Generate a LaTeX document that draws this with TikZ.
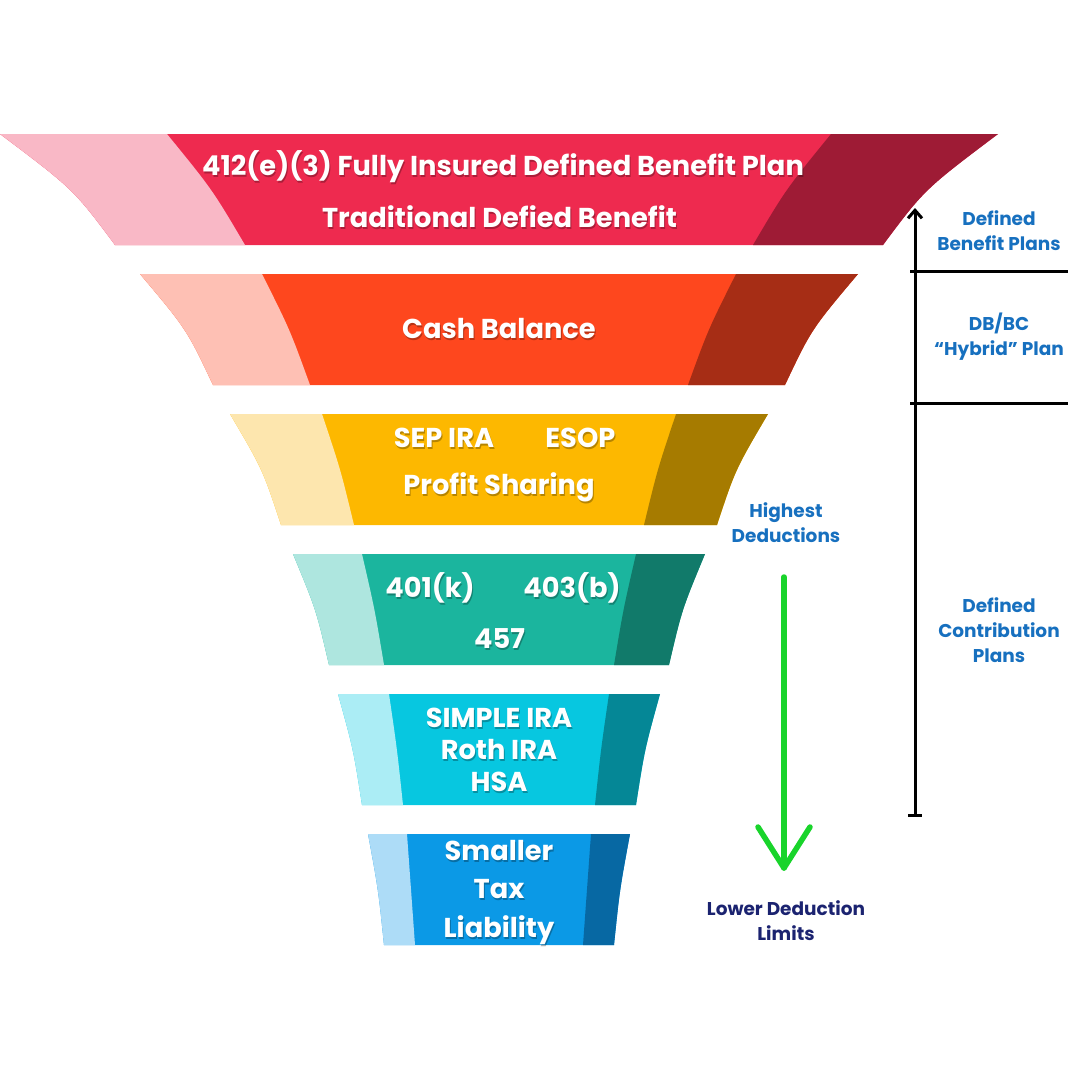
\documentclass[tikz,border=0pt]{standalone}
\usepackage{fontspec}
\setmainfont{Poppins}
\usetikzlibrary{arrows.meta}
\definecolor{colorl1}{HTML}{F9B8C6}
\definecolor{colorm1}{HTML}{EE2A4F}
\definecolor{colord1}{HTML}{9E1B35}
\definecolor{colorl2}{HTML}{FEC0B4}
\definecolor{colorm2}{HTML}{FE471E}
\definecolor{colord2}{HTML}{A62D15}
\definecolor{colorl3}{HTML}{FDE6AE}
\definecolor{colorm3}{HTML}{FDB800}
\definecolor{colord3}{HTML}{A67B00}
\definecolor{colorl4}{HTML}{AEE6DF}
\definecolor{colorm4}{HTML}{1BB59E}
\definecolor{colord4}{HTML}{117A6A}
\definecolor{colorl5}{HTML}{ABEDF5}
\definecolor{colorm5}{HTML}{07C7E0}
\definecolor{colord5}{HTML}{058796}
\definecolor{colorl6}{HTML}{ADDCF7}
\definecolor{colorm6}{HTML}{0B99E6}
\definecolor{colord6}{HTML}{0768A3}
\definecolor{colorside}{HTML}{1770BF}
\definecolor{colornavy}{HTML}{1B2370}
\definecolor{colorgreen}{HTML}{19D42B}
% one band of the funnel: top y, bottom y, outer x (top, bottom), inner x (top, bottom), colour index
\newcommand{\funnelband}[7]{%
  \pgfmathsetmacro{\ymid}{(#1+#2)/2}%
  \pgfmathsetmacro{\outc}{(#3+#4)/2+0.14*(#4-#3)}%
  \pgfmathsetmacro{\innc}{(#5+#6)/2+0.08*(#6-#5)}%
  \pgfmathsetmacro{\routt}{998-#3}%
  \pgfmathsetmacro{\routb}{998-#4}%
  \pgfmathsetmacro{\routc}{998-\outc}%
  \pgfmathsetmacro{\rint}{998-#5}%
  \pgfmathsetmacro{\rinb}{998-#6}%
  \pgfmathsetmacro{\rinc}{998-\innc}%
  \fill[colorm#7] (#3,#1) -- (\routt,#1) .. controls (\routc,\ymid) .. (\routb,#2) -- (#4,#2) .. controls (\outc,\ymid) .. (#3,#1) -- cycle;
  \fill[colorl#7] (#3,#1) -- (#5,#1) .. controls (\innc,\ymid) .. (#6,#2) -- (#4,#2) .. controls (\outc,\ymid) .. (#3,#1) -- cycle;
  \fill[colord#7] (\rint,#1) -- (\routt,#1) .. controls (\routc,\ymid) .. (\routb,#2) -- (\rinb,#2) .. controls (\rinc,\ymid) .. (\rint,#1) -- cycle;
}
\newcommand{\bandlabel}[3]{%
  \node[bandshadow] at ([xshift=1pt,yshift=-2pt]#2) {#3};
  \node[bandtext] (#1) at (#2) {#3};
}
\tikzset{
  bandtext/.style={text=white, font=\fontsize{27.3}{32}\selectfont\bfseries, inner sep=0pt, anchor=base},
  bandshadow/.style={bandtext, text=black, opacity=0.28},
  sidetext/.style={text=colorside, font=\fontsize{18.5}{25}\selectfont\bfseries, inner sep=0pt, anchor=base},
  axisline/.style={line width=3pt, black},
  greenarrow/.style={line width=5.5pt, colorgreen, line cap=round, line join=round}
}

\begin{document}
\begin{tikzpicture}[x=1pt,y=-1pt]
\useasboundingbox (0,0) rectangle (1080,1080);

\funnelband{134}{245}{0}{115}{167}{245}{1}
\funnelband{274}{385}{140}{213}{262}{310}{2}
\funnelband{414}{525}{230}{281}{322}{354}{3}
\funnelband{554}{665}{293}{329}{362}{384}{4}
\funnelband{694}{805}{338}{362}{389}{403}{5}
\funnelband{834}{945}{368}{384}{407}{415}{6}

\bandlabel{dbfull}{503,175}{412(e)(3) Fully Insured Defined Benefit Plan}
\bandlabel{dbtrad}{499.5,227}{Traditional Defied Benefit}
\bandlabel{cash}{499,338}{Cash Balance}
\bandlabel{sep}{444,447}{SEP IRA}
\bandlabel{esop}{580.5,447}{ESOP}
\bandlabel{profit}{499,494}{Profit Sharing}
\bandlabel{k401}{430,597}{401(k)}
\bandlabel{b403}{572,597}{403(b)}
\bandlabel{p457}{499.5,648}{457}
\bandlabel{simple}{499,727}{SIMPLE IRA}
\bandlabel{roth}{499,759}{Roth IRA}
\bandlabel{hsa}{499,791}{HSA}
\bandlabel{small}{499,860}{Smaller}
\bandlabel{tax}{499,898}{Tax}
\bandlabel{liab}{499,937}{Liability}

% scale on the right
\coordinate (axtop) at (915,208);
\coordinate (axbot) at (915,815);
\coordinate (div1l) at (910,271);
\coordinate (div1r) at (1068,271);
\coordinate (div2l) at (910,403);
\coordinate (div2r) at (1068,403);
\coordinate (tickl) at (908,815);
\coordinate (tickr) at (922,815);
\draw[axisline, {Straight Barb[length=8pt,width=14pt]}-] (axtop) -- (axbot);
\draw[axisline] (div1l) -- (div1r);
\draw[axisline] (div2l) -- (div2r);
\draw[axisline] (tickl) -- (tickr);

\node[sidetext] (db1) at (999,225) {Defined};
\node[sidetext] (db2) at (999,250) {Benefit Plans};
\node[sidetext] (hy1) at (999,330) {DB/BC};
\node[sidetext] (hy2) at (999,355) {“Hybrid” Plan};
\node[sidetext] (dc1) at (999,612) {Defined};
\node[sidetext] (dc2) at (999,637) {Contribution};
\node[sidetext] (dc3) at (999,662) {Plans};

% deduction arrow
\coordinate (gstart) at (784,577);
\coordinate (gtip) at (784,868);
\coordinate (gleft) at (758,827);
\coordinate (gright) at (810,827);
\draw[greenarrow] (gstart) -- (gtip);
\draw[greenarrow] (gleft) -- (gtip) -- (gright);

\node[sidetext] (hi1) at (786,517) {Highest};
\node[sidetext] (hi2) at (786,542) {Deductions};
\node[sidetext, text=colornavy] (lo1) at (786,915) {Lower Deduction};
\node[sidetext, text=colornavy] (lo2) at (786,940) {Limits};
\end{tikzpicture}
\end{document}
